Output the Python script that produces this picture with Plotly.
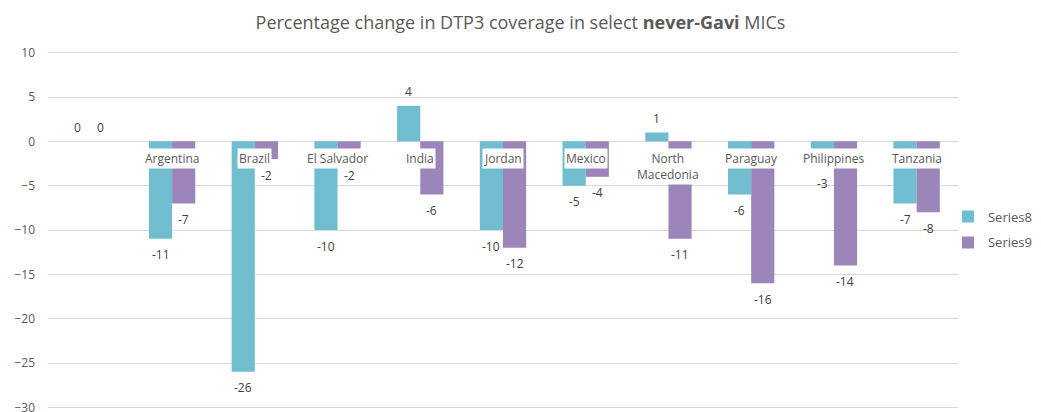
import plotly.graph_objects as go

categories = ["", "Argentina", "Brazil", "El Salvador", "India", "Jordan", "Mexico",
              "North<br>Macedonia", "Paraguay", "Philippines", "Tanzania"]
series8 = [0, -11, -26, -10, 4, -10, -5, 1, -6, -3, -7]
series9 = [0, -7, -2, -2, -6, -12, -4, -11, -16, -14, -8]
y_ticks = [10, 5, 0, -5, -10, -15, -20, -25, -30]

teal = "#70BDD0"
purple = "#9C85B8"
font_family = "Open Sans, Liberation Sans, sans-serif"
xs = list(range(len(categories)))

fig = go.Figure()
fig.add_trace(go.Bar(x=xs, y=series8, name="Series8", legendgroup="a",
                     marker=dict(color=teal, line=dict(width=0)), offsetgroup="a"))
fig.add_trace(go.Bar(x=xs, y=series9, name="Series9", legendgroup="b",
                     marker=dict(color=purple, line=dict(width=0)), offsetgroup="b"))

bargap = 0.44
bar_w = (1 - bargap) / 2

# data labels (outside end), placed via the axis scale
for series, off in ((series8, -bar_w / 2), (series9, bar_w / 2)):
    for i, v in enumerate(series):
        fig.add_annotation(x=i + off, y=v, text=str(v), showarrow=False,
                           yanchor="middle", yshift=(14 if v >= 0 else -16),
                           font=dict(size=12, color="#404040", family=font_family))

# category labels with white background at the zero line
for i, c in enumerate(categories):
    if c:
        fig.add_annotation(x=i, y=0, text=c, showarrow=False, yanchor="top", yshift=-7,
                           bgcolor="white", borderpad=1,
                           font=dict(size=12, color="#595959", family=font_family))

fig.update_layout(
    width=1041, height=412,
    margin=dict(l=48, r=83, t=50, b=2, autoexpand=False),
    paper_bgcolor="white", plot_bgcolor="white",
    barmode="group", bargap=bargap, bargroupgap=0,
    title=dict(text="Percentage change in DTP3 coverage in select <b>never-Gavi</b> MICs",
               x=0.5, xanchor="center", y=0.945, yanchor="middle",
               font=dict(size=18, color="#595959", family=font_family)),
    xaxis=dict(showticklabels=False, showgrid=False, zeroline=False,
               range=[-0.5, len(categories) - 0.5], fixedrange=True),
    yaxis=dict(range=[-30.3, 10.3], tickvals=y_ticks, showgrid=True, gridcolor="#D9D9D9",
               gridwidth=1, zeroline=True, zerolinecolor="#D9D9D9", zerolinewidth=1,
               tickfont=dict(size=12, color="#595959", family=font_family),
               ticks="", ticklabelstandoff=12, automargin=False, fixedrange=True,
               ticklabeloverflow="allow"),
    legend=dict(x=0.989, y=0.579, xanchor="left", yanchor="top",
                bgcolor="rgba(0,0,0,0)",
                font=dict(size=13, color="#595959", family=font_family),
                tracegroupgap=6, itemwidth=30),
    showlegend=True,
)

fig.write_html("out.html", config={"displayModeBar": False},
               post_script="document.body.style.margin='0';document.body.style.overflow='hidden';")
